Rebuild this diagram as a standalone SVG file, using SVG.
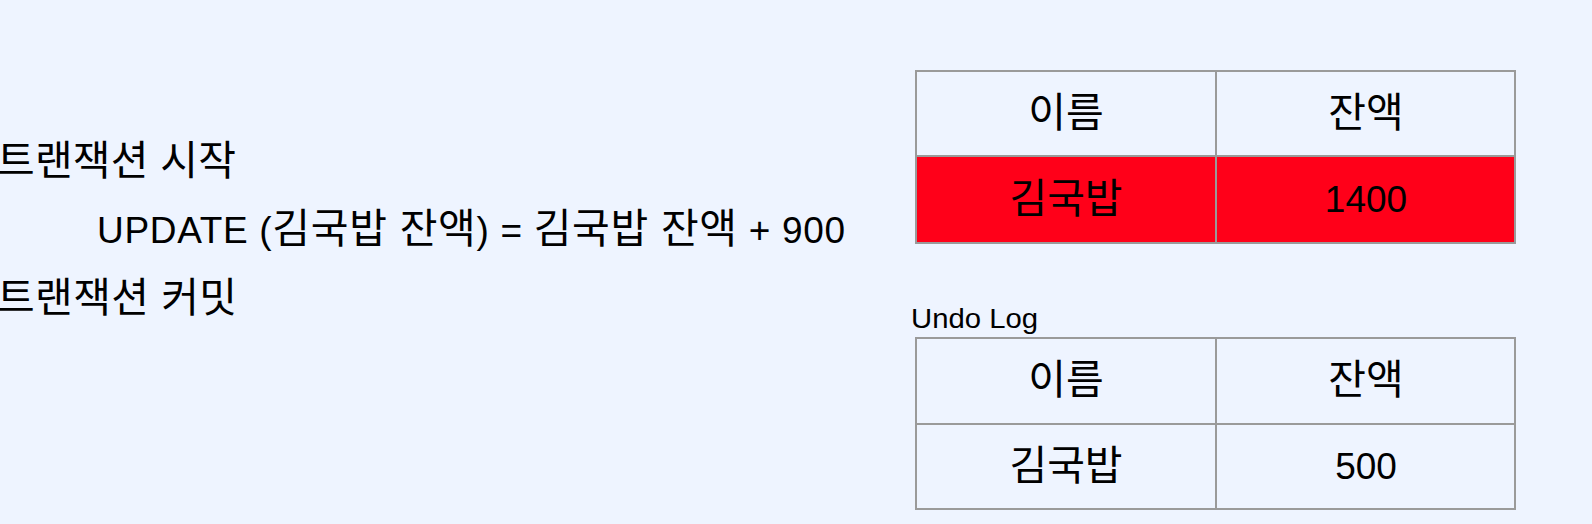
<svg xmlns="http://www.w3.org/2000/svg" width="1592" height="524" viewBox="0 0 1592 524">
<style>
.t{font-family:"Liberation Sans","Noto Sans CJK KR",sans-serif;fill:#000}
.big{font-size:37px}
.k{font-size:41px}
.c{text-anchor:middle}
.cell{stroke:#9a9a9a;stroke-width:2}
</style>
<rect x="0" y="0" width="1592" height="524" fill="#EEF4FF"/>
<g id="transaction-text">
<text class="t big k" x="-3" y="175" textLength="239" lengthAdjust="spacing">트랜잭션 시작</text>
<text class="t big" x="97" y="243" textLength="748" lengthAdjust="spacing">UPDATE (<tspan class="k">김국밥 잔액</tspan>) = <tspan class="k">김국밥 잔액</tspan> + 900</text>
<text class="t big k" x="-3" y="312" textLength="240" lengthAdjust="spacing">트랜잭션 커밋</text>
</g>
<g id="table-current">
<rect class="cell" x="916" y="71" width="300" height="85" fill="#EEF4FF"/>
<rect class="cell" x="1216" y="71" width="299" height="85" fill="#EEF4FF"/>
<rect class="cell" x="916" y="156" width="300" height="87" fill="#FF0019"/>
<rect class="cell" x="1216" y="156" width="299" height="87" fill="#FF0019"/>
<text class="t k c" x="1066" y="127">이름</text>
<text class="t k c" x="1366" y="127">잔액</text>
<text class="t k c" x="1066" y="213">김국밥</text>
<text class="t big c" x="1366" y="212">1400</text>
</g>
<g id="undo-log">
<text class="t" x="911" y="328" font-size="28" textLength="127" lengthAdjust="spacingAndGlyphs">Undo Log</text>
<rect class="cell" x="916" y="338" width="300" height="86" fill="#EEF4FF"/>
<rect class="cell" x="1216" y="338" width="299" height="86" fill="#EEF4FF"/>
<rect class="cell" x="916" y="424" width="300" height="85" fill="#EEF4FF"/>
<rect class="cell" x="1216" y="424" width="299" height="85" fill="#EEF4FF"/>
<text class="t k c" x="1066" y="394">이름</text>
<text class="t k c" x="1366" y="394">잔액</text>
<text class="t k c" x="1066" y="480">김국밥</text>
<text class="t big c" x="1366" y="479">500</text>
</g>
</svg>
